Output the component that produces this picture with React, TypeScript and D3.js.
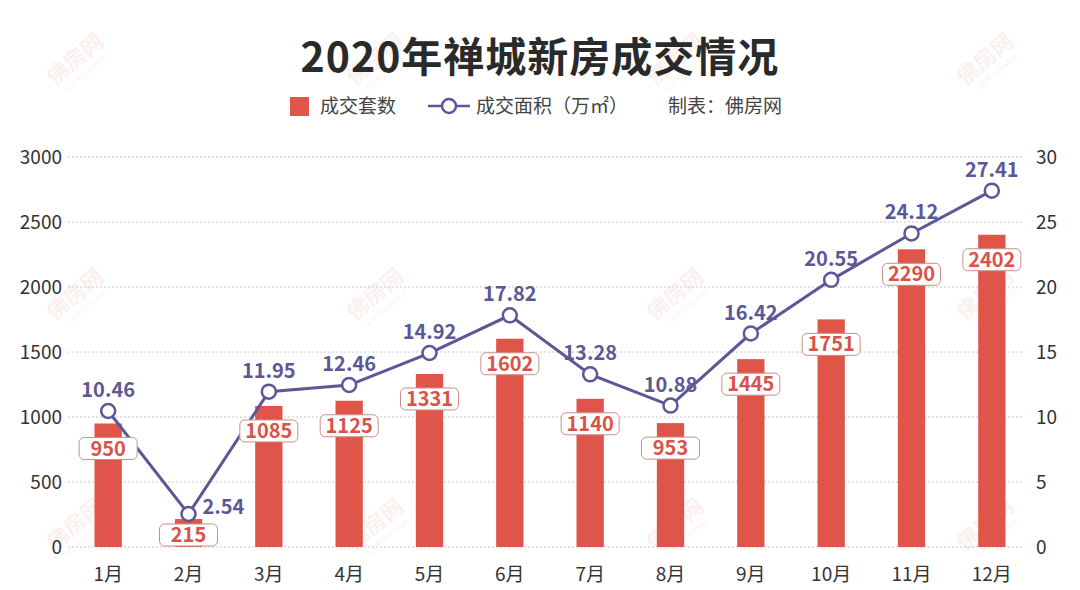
import React from "react";
import * as d3 from "d3";

const months = ["1月","2月","3月","4月","5月","6月","7月","8月","9月","10月","11月","12月"];
const units = [950, 215, 1085, 1125, 1331, 1602, 1140, 953, 1445, 1751, 2290, 2402];
const areas = [10.46, 2.54, 11.95, 12.46, 14.92, 17.82, 13.28, 10.88, 16.42, 20.55, 24.12, 27.41];
const leftTicks = [0, 500, 1000, 1500, 2000, 2500, 3000];
const rightTicks = [0, 5, 10, 15, 20, 25, 30];
const wmCols = [80, 380, 680, 990];
const wmRows = [65, 300, 530];

const FONT = "'Noto Sans CJK SC', 'Noto Sans', sans-serif";
const RED = "#e0554a";
const PURPLE = "#5c5797";

export default function App() {
  const W = 1080, H = 590;
  const top = 157, bottom = 547;
  const x = d3.scaleBand().domain(months).range([68, 1032]).paddingInner(0.66).paddingOuter(0.33);
  const yL = d3.scaleLinear().domain([0, 3000]).range([bottom, top]);
  const yR = d3.scaleLinear().domain([0, 30]).range([bottom, top]);
  const cx = (m: string) => (x(m) as number) + x.bandwidth() / 2;
  const line = d3.line<number>().x((_, i) => cx(months[i])).y((d) => yR(d));

  return (
    <svg width={W} height={H} style={{ display: "block", position: "absolute", left: 0, top: 0, background: "#fff" }} fontFamily={FONT}>
      <rect width={W} height={H} fill="#fff" />
      {wmRows.map((wy) => wmCols.map((wx) => (
        <g key={`${wx}-${wy}`} transform={`translate(${wx},${wy}) rotate(-40)`} opacity={0.08}>
          <text textAnchor="middle" fontSize={22} fontWeight={700} fill="#d9534a">佛房网</text>
          <text y={12} textAnchor="middle" fontSize={7} fill="#d9534a">公众号@efoshan</text>
        </g>
      )))}
      <text x={540} y={72} textAnchor="middle" fontSize={41} fontWeight={700} fill="#2a2a2a" letterSpacing={1}>2020年禅城新房成交情况</text>
      {/* legend */}
      <rect x={290} y={97} width={19} height={19} fill={RED} />
      <text x={320} y={113} fontSize={19} fill="#444">成交套数</text>
      <line x1={428} x2={470} y1={106} y2={106} stroke={PURPLE} strokeWidth={2.5} />
      <circle cx={449} cy={106} r={7} fill="#fff" stroke={PURPLE} strokeWidth={2.5} />
      <text x={476} y={113} fontSize={19} fill="#444">成交面积（万㎡）</text>
      <text x={668} y={113} fontSize={19} fill="#444">制表：佛房网</text>
      {/* grid */}
      {leftTicks.map((t) => (
        <line key={t} x1={68} x2={1022} y1={yL(t)} y2={yL(t)} stroke="#c8c8c8" strokeDasharray="2,2" strokeWidth={1} />
      ))}
      {leftTicks.map((t) => (
        <text key={t} x={62} y={yL(t) + 7} textAnchor="end" fontSize={19} fill="#333">{t}</text>
      ))}
      {rightTicks.map((t) => (
        <text key={t} x={1036} y={yR(t) + 7} textAnchor="start" fontSize={19} fill="#333">{t}</text>
      ))}
      {months.map((m) => (
        <text key={m} x={cx(m)} y={581} textAnchor="middle" fontSize={19} fill="#333">{m}</text>
      ))}
      {/* bars */}
      {units.map((v, i) => (
        <rect key={i} x={x(months[i])} y={yL(v)} width={x.bandwidth()} height={bottom - yL(v)} fill={RED} />
      ))}
      {/* line */}
      <path d={line(areas) as string} fill="none" stroke={PURPLE} strokeWidth={3} />
      {/* bar labels */}
      {units.map((v, i) => {
        const cy = Math.min(yL(v) + 25, bottom - 12);
        return (
          <g key={i}>
            <rect x={cx(months[i]) - 29} y={cy - 11} width={58} height={22} rx={5} fill="#fff" stroke="#c98f88" strokeWidth={1} />
            <text x={cx(months[i])} y={cy + 7} textAnchor="middle" fontSize={20} fontWeight={700} fill="#d9534a">{v}</text>
          </g>
        );
      })}
      {/* points */}
      {areas.map((v, i) => (
        <circle key={i} cx={cx(months[i])} cy={yR(v)} r={7} fill="#fff" stroke={PURPLE} strokeWidth={2.5} />
      ))}
      {areas.map((v, i) => {
        const low = i > 0 && v < areas[i - 1] && i < areas.length - 1 && v < areas[i + 1] && v < 5;
        return low ? (
          <text key={i} x={cx(months[i]) + 14} y={yR(v)} textAnchor="start" fontSize={20} fontWeight={700} fill={PURPLE}>{v.toFixed(2)}</text>
        ) : (
          <text key={i} x={cx(months[i])} y={yR(v) - 14} textAnchor="middle" fontSize={20} fontWeight={700} fill={PURPLE}>{v.toFixed(2)}</text>
        );
      })}
    </svg>
  );
}
